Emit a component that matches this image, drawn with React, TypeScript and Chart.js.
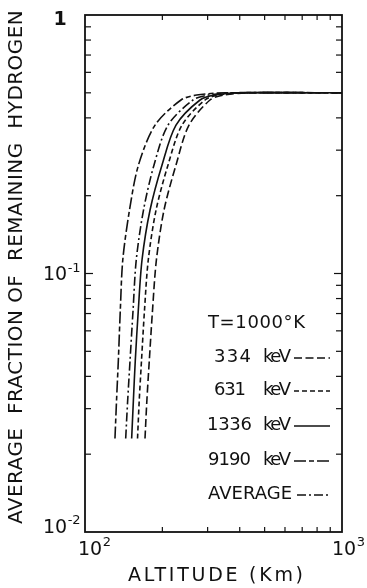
import React, { useEffect, useRef } from "react";
import { Chart, registerables } from "chart.js";

Chart.register(...registerables);

// ---- data ----
const FRACTION = [0.023, 0.032, 0.046, 0.072, 0.113, 0.176, 0.263, 0.375, 0.469, 0.49, 0.5, 0.5];
const ALT_1336 = [151.9, 154.2, 156.9, 161.2, 166.7, 179.1, 199.4, 226.0, 280.3, 320.0, 401.0, 1000];
const ALT_9190 = [130.8, 132.6, 134.8, 137.2, 140.3, 149.0, 161.5, 187.3, 236.3, 272.0, 350.5, 1000];
const ALT_AVG = [144.0, 146.5, 149.7, 153.8, 158.3, 168.9, 185.6, 210.4, 263.2, 302.0, 383.5, 1000];
const ALT_631 = [160.1, 162.5, 165.9, 170.4, 176.3, 189.0, 210.4, 238.5, 293.1, 333.0, 419.4, 1000];
const ALT_334 = [171.2, 174.0, 177.9, 183.1, 189.6, 203.0, 226.0, 253.9, 306.4, 346.0, 438.5, 1000];

const SERIES_NAMES = ["1336 keV", "9190 keV", "AVERAGE", "631 keV", "334 keV"];
const SERIES_DASH: number[][] = [[], [12, 3, 5, 3], [9, 3, 2, 3], [5, 3], [8, 3.5]];

const X_MINOR = [200, 300, 400, 500, 600, 700, 800, 900];
const Y_TICKS = [0.02, 0.03, 0.04, 0.05, 0.06, 0.07, 0.08, 0.09, 0.1, 0.2, 0.3, 0.4, 0.5, 0.6, 0.7, 0.8, 0.9];

const TEMP_LABEL = "T=1000°K";
const LEGEND_NUMS = ["334", "631", "1336", "9190"];
const LEGEND_UNIT = "keV";
const LEGEND_DASH: number[][] = [[8, 3.5], [5, 3], [], [12, 3, 5, 3]];
const AVG_LABEL = "AVERAGE";
const AVG_DASH = [9, 3, 2, 3];

const X_TITLE = "ALTITUDE (Km)";
const Y_TITLE = "AVERAGE  FRACTION OF  REMAINING  HYDROGEN";

const INK = "#111";
const FONT = "'DejaVu Sans', 'Liberation Sans', sans-serif";

function pts(xs: number[], ys: number[]) {
  return xs.map((x, i) => ({ x, y: ys[i] }));
}

function fitText(ctx: CanvasRenderingContext2D, text: string, x: number, y: number, width: number) {
  (ctx as any).letterSpacing = "0px";
  const w0 = ctx.measureText(text).width;
  const n = [...text].length;
  const ls = n > 1 ? (width - w0) / (n - 1) : 0;
  (ctx as any).letterSpacing = ls.toFixed(2) + "px";
  ctx.textAlign = "left";
  ctx.fillText(text, x, y);
  (ctx as any).letterSpacing = "0px";
}

const decor = {
  id: "decor",
  afterDraw(chart: any) {
    const ctx: CanvasRenderingContext2D = chart.ctx;
    const { left, right, top, bottom } = chart.chartArea;
    const xs = chart.scales.x;
    const ys = chart.scales.y;
    ctx.save();
    ctx.strokeStyle = INK;
    ctx.fillStyle = INK;
    ctx.setLineDash([]);
    ctx.lineWidth = 1.8;
    ctx.strokeRect(left, top, right - left, bottom - top);

    ctx.lineWidth = 1.2;
    const seg = (x1: number, y1: number, x2: number, y2: number) => {
      ctx.beginPath();
      ctx.moveTo(x1, y1);
      ctx.lineTo(x2, y2);
      ctx.stroke();
    };
    for (const v of X_MINOR) {
      const p = xs.getPixelForValue(v);
      seg(p, bottom, p, bottom - 5);
      seg(p, top, p, top + 5);
    }
    for (const v of Y_TICKS) {
      const p = ys.getPixelForValue(v);
      const len = Math.abs(Math.log10(v) - Math.round(Math.log10(v))) < 1e-6 ? 8 : 6;
      seg(left, p, left + len, p);
      seg(right, p, right - len, p);
    }

    // tick labels
    ctx.textBaseline = "middle";
    ctx.textAlign = "left";
    const big = "19px " + FONT;
    const sup = "13px " + FONT;
    const pow = (base: string, exp: string, x: number, y: number) => {
      ctx.font = big;
      ctx.fillText(base, x, y);
      const w = ctx.measureText(base).width;
      ctx.font = sup;
      ctx.fillText(exp, x + w + 0.5, y - 7);
    };
    ctx.font = "bold 19px " + FONT;
    ctx.textAlign = "center";
    ctx.fillText("1", left - 25, ys.getPixelForValue(1) + 5);
    ctx.textAlign = "left";
    pow("10", "-1", left - 42, ys.getPixelForValue(0.1) + 2);
    pow("10", "-2", left - 42, ys.getPixelForValue(0.01) - 4);
    pow("10", "2", xs.getPixelForValue(100) - 7, bottom + 18);
    pow("10", "3", xs.getPixelForValue(1000) - 10, bottom + 18);

    // axis titles
    ctx.textBaseline = "middle";
    ctx.font = "19px " + FONT;
    fitText(ctx, X_TITLE, 128, 576, 175);
    ctx.save();
    ctx.translate(17, 267);
    ctx.rotate(-Math.PI / 2);
    ctx.font = "20px " + FONT;
    fitText(ctx, Y_TITLE, -257, 0, 514);
    ctx.restore();

    // legend block
    ctx.font = "18px " + FONT;
    fitText(ctx, TEMP_LABEL, 208, 323, 97);
    const rowsY = [357, 390, 425, 460];
    const numX = [214, 214, 207, 208];
    const numW = [37, 32, 45, 43];
    LEGEND_NUMS.forEach((n, i) => {
      ctx.font = "18px " + FONT;
      fitText(ctx, n, numX[i], rowsY[i], numW[i]);
      fitText(ctx, LEGEND_UNIT, 263, rowsY[i], 28);
      ctx.lineWidth = 1.7;
      ctx.setLineDash(LEGEND_DASH[i]);
      seg(294, rowsY[i] + 1, 330, rowsY[i] + 1);
      ctx.setLineDash([]);
    });
    ctx.font = "18px " + FONT;
    fitText(ctx, AVG_LABEL, 208, 494, 84);
    ctx.lineWidth = 1.7;
    ctx.setLineDash(AVG_DASH);
    seg(297, 495, 329, 495);
    ctx.setLineDash([]);
    ctx.restore();
  },
};

export default function App() {
  const ref = useRef<HTMLCanvasElement | null>(null);
  useEffect(() => {
    if (!ref.current) return;
    const alts = [ALT_1336, ALT_9190, ALT_AVG, ALT_631, ALT_334];
    const chart = new Chart(ref.current, {
      type: "line",
      data: {
        datasets: alts.map((a, i) => ({
          label: SERIES_NAMES[i],
          data: pts(a, FRACTION),
          borderColor: INK,
          borderWidth: 1.6,
          borderDash: SERIES_DASH[i],
          pointRadius: 0,
          fill: false,
          tension: 0.3,
        })),
      },
      options: {
        animation: false,
        responsive: true,
        maintainAspectRatio: false,
        layout: { padding: { left: 85, top: 15, right: 25, bottom: 56 } },
        plugins: { legend: { display: false }, tooltip: { enabled: false } },
        scales: {
          x: { type: "logarithmic", min: 100, max: 1000, display: false },
          y: { type: "logarithmic", min: 0.01, max: 1, display: false },
        },
      },
      plugins: [decor],
    });
    return () => chart.destroy();
  }, []);
  return (
    <div style={{ position: "absolute", left: 0, top: 0, width: 367, height: 588, background: "#fff" }}>
      <canvas ref={ref} />
    </div>
  );
}
